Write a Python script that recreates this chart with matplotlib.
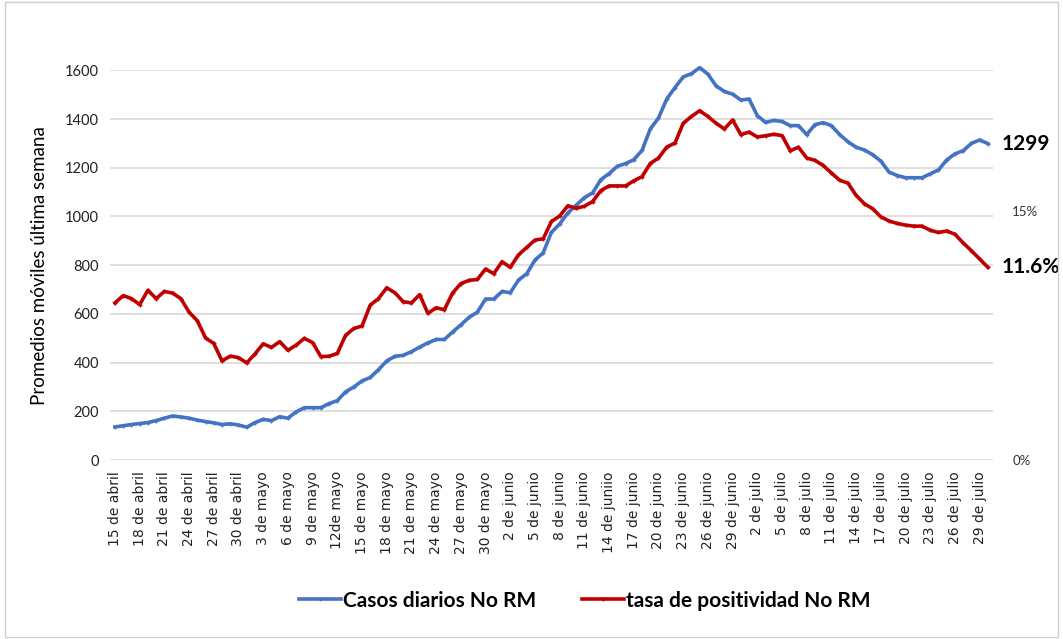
import numpy as np
import matplotlib.pyplot as plt
from matplotlib.patches import Rectangle

# tick labels, one every 3 days starting 15 de abril (text as in the original, typos kept)
tick_labels = ["15 de abril", "18 de abril", "21 de abril", "24 de abril", "27 de abril", "30 de abril",
               "3 de mayo", "6 de mayo", "9 de mayo", "12de mayo", "15 de mayo", "18 de mayo",
               "21 de mayo", "24 de mayo", "27 de mayo", "30 de mayo", "2 de junio", "5 de junio",
               "8 de junio", "11 de junio", "14 de juniio", "17 de junio", "20 de junio", "23 de junio",
               "26 de junio", "29 de junio", "2 de julio", "5 de julio", "8 de julio", "11 de julio",
               "14 de julio", "17 de julio", "20 de julio", "23 de julio", "26 de julio", "29 de julio"]

# casos diarios No RM (promedio movil 7 dias), 15 abril - 30 julio
casos = [136, 141, 146, 150, 154, 162, 172, 181, 177, 172,
         164, 158, 153, 146, 149, 144, 135, 154, 167, 162,
         178, 172, 198, 215, 215, 215, 232, 244, 280, 300,
         325, 339, 371, 407, 426, 430, 445, 464, 481, 495,
         495, 526, 555, 586, 607, 661, 661, 692, 687, 739,
         765, 821, 851, 935, 969, 1015, 1046, 1077, 1097, 1151,
         1176, 1206, 1217, 1233, 1271, 1359, 1404, 1482, 1529, 1573,
         1586, 1611, 1584, 1536, 1513, 1502, 1478, 1482, 1414, 1386,
         1394, 1390, 1373, 1373, 1336, 1377, 1385, 1373, 1336, 1307,
         1284, 1273, 1254, 1227, 1182, 1168, 1159, 1159, 1159, 1175,
         1191, 1232, 1257, 1270, 1300, 1314, 1299]

# tasa de positividad No RM (%)
positividad = [9.46, 9.90, 9.72, 9.36, 10.22, 9.72, 10.15, 10.05, 9.72, 8.90,
               8.39, 7.35, 7.02, 5.97, 6.26, 6.17, 5.85, 6.39, 7.00, 6.78,
               7.13, 6.61, 6.92, 7.33, 7.07, 6.23, 6.25, 6.42, 7.51, 7.92,
               8.07, 9.33, 9.72, 10.37, 10.07, 9.53, 9.46, 9.96, 8.83, 9.17,
               9.05, 10.06, 10.62, 10.82, 10.87, 11.50, 11.22, 11.94, 11.60, 12.35,
               12.80, 13.24, 13.32, 14.36, 14.69, 15.31, 15.15, 15.28, 15.56, 16.22,
               16.50, 16.50, 16.50, 16.81, 17.06, 17.85, 18.18, 18.84, 19.08, 20.27,
               20.68, 21.03, 20.68, 20.27, 19.93, 20.47, 19.59, 19.74, 19.45, 19.52,
               19.61, 19.53, 18.62, 18.83, 18.18, 18.04, 17.73, 17.28, 16.84, 16.67,
               15.93, 15.43, 15.13, 14.64, 14.39, 14.24, 14.14, 14.08, 14.08, 13.83,
               13.70, 13.79, 13.59, 13.07, 12.60, 12.10, 11.60]

dias = np.arange(len(casos))

BLUE = '#4472C4'
RED = '#C00000'

fig = plt.figure(figsize=(10.63, 6.39), dpi=100)
ax1 = fig.add_axes([0.1035, 0.280, 0.8305, 0.610])
ax2 = ax1.twinx()

l1, = ax1.plot(dias, casos, color=BLUE, lw=2.6, marker='+', ms=3.5, mew=1,
               label='Casos diarios No RM', zorder=3, clip_on=False)
l2, = ax2.plot(dias, positividad, color=RED, lw=2.6, marker='+', ms=3.5, mew=1,
               label='tasa de positividad No RM', zorder=3, clip_on=False)

ax1.set_ylim(0, 1600)
ax1.set_yticks(np.arange(0, 1601, 200))
ax1.set_xlim(-0.6, 106.6)
ax1.grid(axis='y', color='#D9D9D9', lw=1.2)
ax1.set_axisbelow(True)
ax1.set_xticks(dias[::3])
ax1.set_xticklabels(tick_labels, rotation=90, fontsize=10, family='DejaVu Sans')
for lab in ax1.get_yticklabels():
    lab.set_family('Lato')
    lab.set_fontsize(10.5)
ax1.tick_params(axis='both', length=0, pad=8, colors='#222222')
ax1.set_ylabel('Promedios móviles última semana', family='Lato', fontsize=13.5, labelpad=12)

# right axis: 11.6% sits at ~791 on the left scale
ax2.set_ylim(0, 23.46)
ax2.set_yticks([0, 15])
ax2.set_yticklabels(['0%', '15%'], family='Lato', fontsize=9.5)
ax2.tick_params(axis='y', length=0, pad=14, colors='#333333')

for a in (ax1, ax2):
    for s in a.spines.values():
        s.set_visible(False)

ax1.annotate(str(casos[-1]), (dias[-1], casos[-1]), xytext=(10, 0), textcoords='offset points',
             va='center', ha='left', fontsize=15, fontweight='bold', family='Lato', annotation_clip=False)
ax2.annotate('%.1f%%' % positividad[-1], (dias[-1], positividad[-1]), xytext=(10, 0),
             textcoords='offset points', va='center', ha='left', fontsize=15,
             fontweight='bold', family='Lato', annotation_clip=False)

fig.legend(handles=[l1, l2], loc='center', bbox_to_anchor=(0.55, 0.06), ncol=2, frameon=False,
           prop={'family': 'Lato', 'weight': 'bold', 'size': 15}, handlelength=2.0,
           handletextpad=0.1, columnspacing=2.2)

fig.patches.append(Rectangle((0.005, 0.003), 0.99, 0.994, transform=fig.transFigure,
                             fill=False, edgecolor='#D0D0D0', lw=1))

fig.savefig('out.png', dpi=100)
